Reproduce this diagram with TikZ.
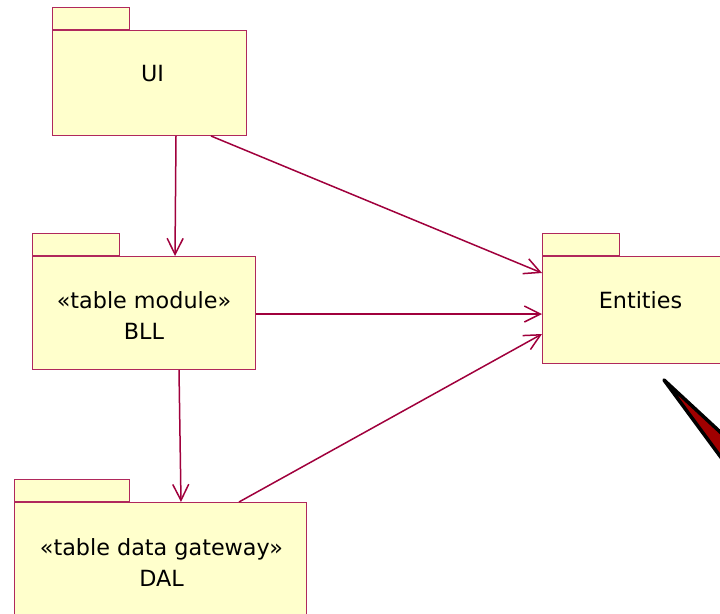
\documentclass[tikz,border=0pt]{standalone}
\usepackage{fontspec}
\setmainfont{DejaVu Sans}
\usetikzlibrary{arrows.meta}
\definecolor{pkgfill}{HTML}{FFFFCC}
\definecolor{pkgline}{HTML}{B0285C}
\definecolor{conline}{HTML}{A0003C}
\definecolor{wedgered}{HTML}{A00000}
\tikzset{
  pkgbody/.style={draw=pkgline, fill=pkgfill, line width=1pt, rectangle, inner sep=0pt, anchor=north west},
  pkgtab/.style={draw=pkgline, fill=pkgfill, line width=1pt, rectangle, inner sep=0pt, anchor=south west, minimum height=22pt},
  pkgtext/.style={font=\fontsize{22.3}{31}\selectfont, align=center, anchor=north, inner sep=0pt, text=black},
  dep/.style={draw=conline, line width=1.5pt, -{Straight Barb[length=16pt,width=16pt,line width=1.5pt]}}
}
\begin{document}
\begin{tikzpicture}[x=1pt,y=-1pt]
\useasboundingbox (0,0) rectangle (720,613);
% UI
\node[pkgbody, minimum width=194pt, minimum height=105pt] (ui) at (52,30) {};
\node[pkgtab, minimum width=77pt] (uitab) at (ui.north west) {};
\node[pkgtext] (uitext) at ([xshift=3pt,yshift=-35pt]ui.north) {UI};
% BLL
\node[pkgbody, minimum width=223pt, minimum height=113pt] (bll) at (32,256) {};
\node[pkgtab, minimum width=87pt] (blltab) at (bll.north west) {};
\node[pkgtext] (blltext) at ([xshift=0pt,yshift=-35pt]bll.north) {«table module»\\BLL};
% Entities
\node[pkgbody, minimum width=196pt, minimum height=107pt] (ent) at (542,256) {};
\node[pkgtab, minimum width=77pt] (enttab) at (ent.north west) {};
\node[pkgtext] (enttext) at ([yshift=-35pt]ent.north) {Entities};
% DAL
\node[pkgbody, minimum width=292pt, minimum height=125pt] (dal) at (14,502) {};
\node[pkgtab, minimum width=115pt] (daltab) at (dal.north west) {};
\node[pkgtext] (daltext) at ([xshift=1pt,yshift=-36pt]dal.north) {«table data gateway»\\DAL};
% connectors
\draw[dep] (ui.south -| 176,0) -- (bll.north -| 175,0);
\draw[dep] (ui.south -| 211,0) -- (ent.west |- 0,273);
\draw[dep] (bll.east |- 0,314) -- (ent.west |- 0,314);
\draw[dep] (bll.south -| 179,0) -- (dal.north -| 181,0);
\draw[dep] (dal.north -| 239,0) -- (ent.west |- 0,334);
% wedge
\filldraw[fill=wedgered, draw=black, line width=3.5pt, line join=round] (664,380) -- (745,455) -- (745,490) -- cycle;
\end{tikzpicture}
\end{document}
